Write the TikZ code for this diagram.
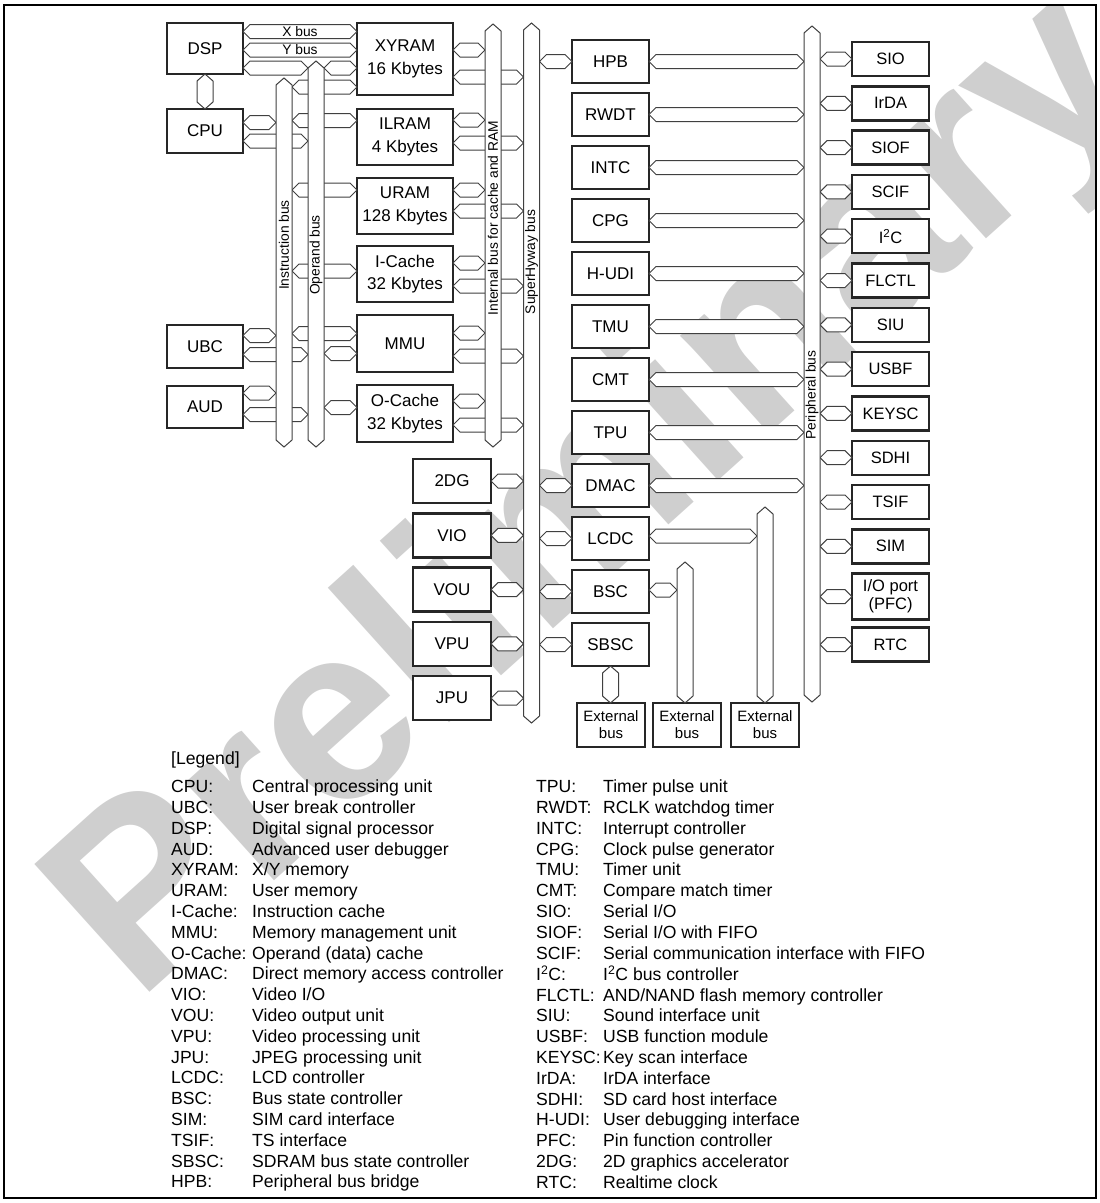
\documentclass[tikz,border=0pt]{standalone}
\usepackage{fontspec}
\setmainfont{Liberation Sans}
\usetikzlibrary{calc, positioning}

\newcommand\blkfont{\fontsize{17}{22.5}\selectfont}
\newcommand\perfont{\fontsize{16.5}{18}\selectfont}
\newcommand\extfont{\fontsize{15}{17}\selectfont}
\newcommand\buslblfont{\fontsize{13.8}{15}\selectfont}
\newcommand\legfont{\fontsize{17.6}{20.8}\selectfont}
\newcommand\wmfont{\fontsize{250}{250}\selectfont\bfseries}

% horizontal bus link: from x of #1 to x of #2, at the height of #3
\newcommand\hlink[3]{%
  \filldraw[link] let \p1=(#1), \p2=(#2), \p3=(#3) in
    (\x1,\y3) -- (\x1+7pt,\y3+7pt) -- (\x2-7pt,\y3+7pt) -- (\x2,\y3)
    -- (\x2-7pt,\y3-7pt) -- (\x1+7pt,\y3-7pt) -- cycle;}
% vertical bus link: from y of #1 down to y of #2, at the x of #3
\newcommand\vlink[3]{%
  \filldraw[link] let \p1=(#1), \p2=(#2), \p3=(#3) in
    (\x3,\y1) -- (\x3+8pt,\y1-7pt) -- (\x3+8pt,\y2+7pt) -- (\x3,\y2)
    -- (\x3-8pt,\y2+7pt) -- (\x3-8pt,\y1-7pt) -- cycle;}
% vertical bus: name, centre x, centre y, length
\newcommand\vbus[4]{%
  \node[inner sep=0pt, outer sep=0pt, minimum width=16pt, minimum height=#4pt] (#1) at (#2,#3) {};}
\newcommand\drawbus[1]{%
  \filldraw[link] (#1.north) -- ([yshift=-7pt]#1.north east) -- ([yshift=7pt]#1.south east)
    -- (#1.south) -- ([yshift=7pt]#1.south west) -- ([yshift=-7pt]#1.north west) -- cycle;}

\begin{document}
\begin{tikzpicture}[x=1pt, y=-1pt,
  blk/.style={draw=black!85, line width=2.4pt, fill=white, inner sep=0pt, outer sep=0pt, align=center, font=\blkfont},
  cpubox/.style={blk, minimum width=76pt},
  mem/.style={blk, minimum width=96pt, minimum height=56pt},
  mid/.style={blk, minimum width=77pt, minimum height=43pt},
  vid/.style={blk, minimum width=78pt, minimum height=44pt},
  per/.style={blk, minimum width=77pt, minimum height=34pt, font=\perfont},
  ext/.style={blk, minimum width=68pt, minimum height=44pt, font=\extfont},
  link/.style={draw=black!75, line width=1pt, fill=white},
  buslbl/.style={inner sep=0pt, font=\buslblfont},
  wmark/.style={text=black!19, font=\wmfont, inner sep=0pt}
]
\useasboundingbox (0,0) rectangle (1100,1203);
\begin{scope}
\clip (4,5) rectangle (1096,1198);
\node[wmark, rotate=42] (prelim) at (600,500) {Preliminary};
\end{scope}
\draw[line width=2pt] (4,5) rectangle (1096,1198);

% CPU side
\node[cpubox, minimum height=51pt] (dsp) at (205,48.5) {DSP};
\node[cpubox, minimum height=44pt] (cpu) at (205,131) {CPU};
\node[cpubox, minimum height=43pt] (ubc) at (205,346.5) {UBC};
\node[cpubox, minimum height=42pt] (aud) at (205,407) {AUD};

% memories
\node[mem, minimum height=72pt] (xyram) at (405,59) {XYRAM\\16 Kbytes};
\node[mem, below=14pt of xyram] (ilram) {ILRAM\\4 Kbytes};
\node[mem, below=13pt of ilram] (uram) {URAM\\128 Kbytes};
\node[mem, below=12pt of uram] (icache) {I-Cache\\32 Kbytes};
\node[mem, minimum height=57pt, below=13pt of icache] (mmu) {MMU};
\node[mem, minimum height=57pt, below=13pt of mmu] (ocache) {O-Cache\\32 Kbytes};

% video side
\node[vid] (tdg) at (452,481) {2DG};
\node[vid, below=10.3pt of tdg] (vio) {VIO};
\node[vid, below=10.3pt of vio] (vou) {VOU};
\node[vid, below=10.3pt of vou] (vpu) {VPU};
\node[vid, below=10.3pt of vpu] (jpu) {JPU};

% middle column
\node[mid] (hpb) at (610.5,61.5) {HPB};
\node[mid, below=10pt of hpb] (rwdt) {RWDT};
\node[mid, below=10pt of rwdt] (intc) {INTC};
\node[mid, below=10pt of intc] (cpg) {CPG};
\node[mid, below=10pt of cpg] (hudi) {H-UDI};
\node[mid, below=10pt of hudi] (tmu) {TMU};
\node[mid, below=10pt of tmu] (cmt) {CMT};
\node[mid, below=10pt of cmt] (tpu) {TPU};
\node[mid, below=10pt of tpu] (dmac) {DMAC};
\node[mid, below=10pt of dmac] (lcdc) {LCDC};
\node[mid, below=10pt of lcdc] (bsc) {BSC};
\node[mid, below=10pt of bsc] (sbsc) {SBSC};

\node[ext] (ext1) at (611,725) {External\\bus};
\node[ext, right=8pt of ext1] (ext2) {External\\bus};
\node[ext, right=10pt of ext2] (ext3) {External\\bus};

% peripherals
\node[per] (sio) at (890.5,59) {SIO};
\node[per, below=10.3pt of sio] (irda) {IrDA};
\node[per, below=10.3pt of irda] (siof) {SIOF};
\node[per, below=10.3pt of siof] (scif) {SCIF};
\node[per, below=10.3pt of scif] (iic) {I\textsuperscript{2}C};
\node[per, below=10.3pt of iic] (flctl) {FLCTL};
\node[per, below=10.3pt of flctl] (siu) {SIU};
\node[per, below=10.3pt of siu] (usbf) {USBF};
\node[per, below=10.3pt of usbf] (keysc) {KEYSC};
\node[per, below=10.3pt of keysc] (sdhi) {SDHI};
\node[per, below=10.3pt of sdhi] (tsif) {TSIF};
\node[per, below=10.3pt of tsif] (sim) {SIM};
\node[per, minimum height=46pt, below=10.3pt of sim] (pfc) {I/O port\\(PFC)};
\node[per, below=8pt of pfc] (rtc) {RTC};

% buses (shapes drawn after the links)
\vbus{ibus}{284}{262.5}{369}
\vbus{obus}{316}{254}{386}
\vbus{intbus}{493}{235.5}{423}
\vbus{shy}{531.5}{373}{700}
\vbus{pbus}{812}{364}{676}
\vbus{extbusb}{685}{632.5}{141}
\vbus{extbusc}{765}{605}{196}

% links
\hlink{dsp.east}{xyram.west}{0,31.5}
\hlink{dsp.east}{xyram.west}{0,50}
\hlink{dsp.east}{obus.west}{0,68}
\hlink{obus.east}{xyram.west}{0,68}
\hlink{ibus.east}{xyram.west}{0,87}
\vlink{dsp.south}{cpu.north}{dsp.south}
\hlink{cpu.east}{ibus.west}{0,122.5}
\hlink{cpu.east}{obus.west}{0,141}
\hlink{ubc.east}{ibus.west}{0,335.5}
\hlink{ubc.east}{obus.west}{0,354.5}
\hlink{aud.east}{ibus.west}{0,393}
\hlink{aud.east}{obus.west}{0,414.5}
\hlink{ibus.east}{ilram.west}{0,120.5}
\hlink{ibus.east}{uram.west}{0,190}
\hlink{ibus.east}{icache.west}{0,271}
\hlink{ibus.east}{mmu.west}{0,333.5}
\hlink{obus.east}{mmu.west}{0,353.5}
\hlink{obus.east}{ocache.west}{0,407.5}

\hlink{xyram.east}{intbus.west}{0,50}
\hlink{xyram.east}{shy.west}{0,77}
\hlink{ilram.east}{intbus.west}{0,120}
\hlink{ilram.east}{shy.west}{0,143}
\hlink{uram.east}{intbus.west}{0,190}
\hlink{uram.east}{shy.west}{0,211}
\hlink{icache.east}{intbus.west}{0,263}
\hlink{icache.east}{shy.west}{0,286}
\hlink{mmu.east}{intbus.west}{0,333}
\hlink{mmu.east}{shy.west}{0,356}
\hlink{ocache.east}{intbus.west}{0,401}
\hlink{ocache.east}{shy.west}{0,425}

\foreach \v in {tdg,vio,vou,vpu,jpu} {\hlink{\v.east}{shy.west}{\v}}
\foreach \m in {hpb,dmac,lcdc,bsc,sbsc} {\hlink{shy.east}{\m.west}{\m}}
\foreach \m in {hpb,rwdt,intc,cpg,hudi,tmu,cmt,tpu,dmac} {\hlink{\m.east}{pbus.west}{\m}}
\foreach \q in {sio,irda,siof,scif,iic,flctl,siu,usbf,keysc,sdhi,tsif,sim,pfc,rtc} {\hlink{pbus.east}{\q.west}{\q}}
\hlink{lcdc.east}{extbusc.west}{0,536}
\hlink{bsc.east}{extbusb.west}{0,590}
\vlink{sbsc.south}{ext1.north}{sbsc.south}

\foreach \b in {ibus,obus,intbus,shy,pbus,extbusb,extbusc} {\drawbus{\b}}

% bus names
\node[buslbl] (xlbl) at (300,31.5) {X bus};
\node[buslbl] (ylbl) at (300,50) {Y bus};
\node[buslbl, rotate=90] (ilbl) at (284,245) {Instruction bus};
\node[buslbl, rotate=90] (olbl) at (316,255) {Operand bus};
\node[buslbl, rotate=90] (intlbl) at (493,218) {Internal bus for cache and RAM};
\node[buslbl, rotate=90] (shylbl) at (531.5,262) {SuperHyway bus};
\node[buslbl, rotate=90] (plbl) at (812,395) {Peripheral bus};

% legend
\node[anchor=west, inner sep=0pt, font=\legfont] (leghead) at (171,760) {[Legend]};
\node[anchor=north west, inner sep=0pt, font=\legfont] (legl) at (171,778) {%
\begin{tabular}{@{}p{81pt}@{}l@{}}
CPU: & Central processing unit\\
UBC: & User break controller\\
DSP: & Digital signal processor\\
AUD: & Advanced user debugger\\
XYRAM: & X/Y memory\\
URAM: & User memory\\
I-Cache: & Instruction cache\\
MMU: & Memory management unit\\
O-Cache: & Operand (data) cache\\
DMAC: & Direct memory access controller\\
VIO: & Video I/O\\
VOU: & Video output unit\\
VPU: & Video processing unit\\
JPU: & JPEG processing unit\\
LCDC: & LCD controller\\
BSC: & Bus state controller\\
SIM: & SIM card interface\\
TSIF: & TS interface\\
SBSC: & SDRAM bus state controller\\
HPB: & Peripheral bus bridge
\end{tabular}};
\node[anchor=north west, inner sep=0pt, font=\legfont] (legr) at (536,778) {%
\begin{tabular}{@{}p{67pt}@{}l@{}}
TPU: & Timer pulse unit\\
RWDT: & RCLK watchdog timer\\
INTC: & Interrupt controller\\
CPG: & Clock pulse generator\\
TMU: & Timer unit\\
CMT: & Compare match timer\\
SIO: & Serial I/O\\
SIOF: & Serial I/O with FIFO\\
SCIF: & Serial communication interface with FIFO\\
I\textsuperscript{2}C: & I\textsuperscript{2}C bus controller\\
FLCTL: & AND/NAND flash memory controller\\
SIU: & Sound interface unit\\
USBF: & USB function module\\
KEYSC: & Key scan interface\\
IrDA: & IrDA interface\\
SDHI: & SD card host interface\\
H-UDI: & User debugging interface\\
PFC: & Pin function controller\\
2DG: & 2D graphics accelerator\\
RTC: & Realtime clock
\end{tabular}};
\end{tikzpicture}
\end{document}
